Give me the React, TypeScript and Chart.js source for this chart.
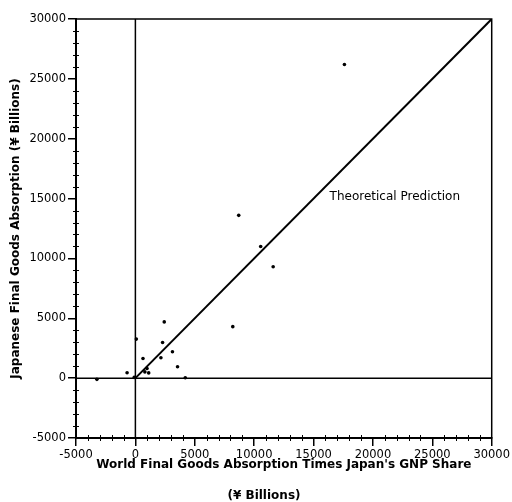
import React, { useEffect, useRef } from 'react';
import { Chart, registerables } from 'chart.js';

Chart.register(...registerables);

// World final goods absorption times Japan's GNP share (¥ billions)
const worldAbsorption = [-3240, -700, 80, 2430, 2290, 640, 3120, 2150, 3550, 980, 1120, 4200, 8700, 10550, 11600, 8200, 17600, -100, 800];
// Japanese final goods absorption (¥ billions)
const japanAbsorption = [-100, 450, 3260, 4700, 2980, 1640, 2200, 1700, 950, 810, 440, 30, 13600, 11000, 9300, 4300, 26200, 60, 520];

const axisMin = -5000;
const axisMax = 30000;
const majorStep = 5000;
const minorTickValues = [
  -4000, -3000, -2000, -1000, 1000, 2000, 3000, 4000, 6000, 7000, 8000, 9000,
  11000, 12000, 13000, 14000, 16000, 17000, 18000, 19000, 21000, 22000, 23000,
  24000, 26000, 27000, 28000, 29000,
];
const predictionX = [0, 30000];
const predictionY = [0, 30000];
const predictionLabel = 'Theoretical Prediction';
const xTitle = "World Final Goods Absorption Times Japan's GNP Share";
const xTitleUnit = '(¥ Billions)';
const yTitle = 'Japanese Final Goods Absorption (¥ Billions)';

const FONT = "'DejaVu Sans', Verdana, sans-serif";

const decorPlugin = {
  id: 'decor',
  afterDraw(chart: any) {
    const { ctx, chartArea: a, scales } = chart;
    const x = scales.x;
    const y = scales.y;
    ctx.save();
    ctx.strokeStyle = '#000';
    ctx.lineWidth = 1.5;
    ctx.strokeRect(a.left, a.top, a.right - a.left, a.bottom - a.top);
    ctx.lineWidth = 1;
    ctx.beginPath();
    minorTickValues.forEach((v) => {
      const py = Math.round(y.getPixelForValue(v)) + 0.5;
      ctx.moveTo(a.left - 3, py);
      ctx.lineTo(a.left + 3, py);
      const px = Math.round(x.getPixelForValue(v)) + 0.5;
      ctx.moveTo(px, a.bottom - 3);
      ctx.lineTo(px, a.bottom + 3);
    });
    ctx.stroke();
    ctx.fillStyle = '#000';
    ctx.textBaseline = 'middle';
    ctx.textAlign = 'left';
    ctx.font = `12px ${FONT}`;
    ctx.fillText(predictionLabel, x.getPixelForValue(16350), y.getPixelForValue(15150));
    ctx.textAlign = 'center';
    ctx.font = `bold 12px ${FONT}`;
    ctx.fillText(xTitleUnit, 264, 496);
    ctx.restore();
  },
};

export default function App() {
  const ref = useRef<HTMLCanvasElement | null>(null);

  useEffect(() => {
    if (!ref.current) return;
    const points = worldAbsorption.map((v, i) => ({ x: v, y: japanAbsorption[i] }));
    const prediction = predictionX.map((v, i) => ({ x: v, y: predictionY[i] }));
    const tickFmt = (v: any) => String(v);
    const chart = new Chart(ref.current, {
      type: 'scatter',
      data: {
        datasets: [
          {
            label: 'Japan',
            data: points,
            backgroundColor: '#000',
            borderColor: '#000',
            pointRadius: 1.8,
            pointBorderWidth: 0,
          },
          {
            type: 'line',
            label: predictionLabel,
            data: prediction,
            borderColor: '#000',
            borderWidth: 2,
            pointRadius: 0,
            fill: false,
          },
          {
            type: 'line',
            label: 'x zero',
            data: [{ x: 0, y: axisMin }, { x: 0, y: axisMax }],
            borderColor: '#000',
            borderWidth: 1.5,
            pointRadius: 0,
            fill: false,
          },
          {
            type: 'line',
            label: 'y zero',
            data: [{ x: axisMin, y: 0 }, { x: axisMax, y: 0 }],
            borderColor: '#000',
            borderWidth: 1.5,
            pointRadius: 0,
            fill: false,
          },
        ],
      } as any,
      options: {
        animation: false,
        responsive: false,
        maintainAspectRatio: false,
        devicePixelRatio: 1,
        layout: { padding: { left: 0, top: 19, right: 18, bottom: 0 } },
        plugins: { legend: { display: false }, tooltip: { enabled: false } },
        scales: {
          x: {
            type: 'linear',
            min: axisMin,
            max: axisMax,
            afterFit: (s: any) => {
              s.height = 64;
            },
            ticks: {
              stepSize: majorStep,
              color: '#000',
              font: { family: FONT, size: 11.5 },
              maxRotation: 0,
              padding: 2,
              callback: tickFmt,
            },
            grid: {
              display: true,
              drawOnChartArea: false,
              drawTicks: true,
              tickLength: 8,
              color: '#000',
              lineWidth: 1.5,
            },
            border: { display: true, color: '#000', width: 2 },
            title: {
              display: true,
              text: xTitle,
              color: '#000',
              font: { family: FONT, size: 12, weight: 'bold' },
              padding: { top: 0, bottom: 30 },
            },
          },
          y: {
            type: 'linear',
            min: axisMin,
            max: axisMax,
            afterFit: (s: any) => {
              s.width = 76;
            },
            ticks: {
              stepSize: majorStep,
              color: '#000',
              font: { family: FONT, size: 11.5 },
              padding: 2,
              callback: tickFmt,
            },
            grid: {
              display: true,
              drawOnChartArea: false,
              drawTicks: true,
              tickLength: 8,
              color: '#000',
              lineWidth: 1.5,
            },
            border: { display: true, color: '#000', width: 2 },
            title: {
              display: true,
              text: yTitle,
              color: '#000',
              font: { family: FONT, size: 12, weight: 'bold' },
              padding: { top: 9, bottom: 0 },
            },
          },
        },
      } as any,
      plugins: [decorPlugin],
    });
    return () => chart.destroy();
  }, []);

  return (
    <div style={{ position: 'fixed', left: 0, top: 0, width: 512, height: 502, background: '#fff' }}>
      <canvas ref={ref} width={512} height={502} style={{ display: 'block' }} />
    </div>
  );
}
